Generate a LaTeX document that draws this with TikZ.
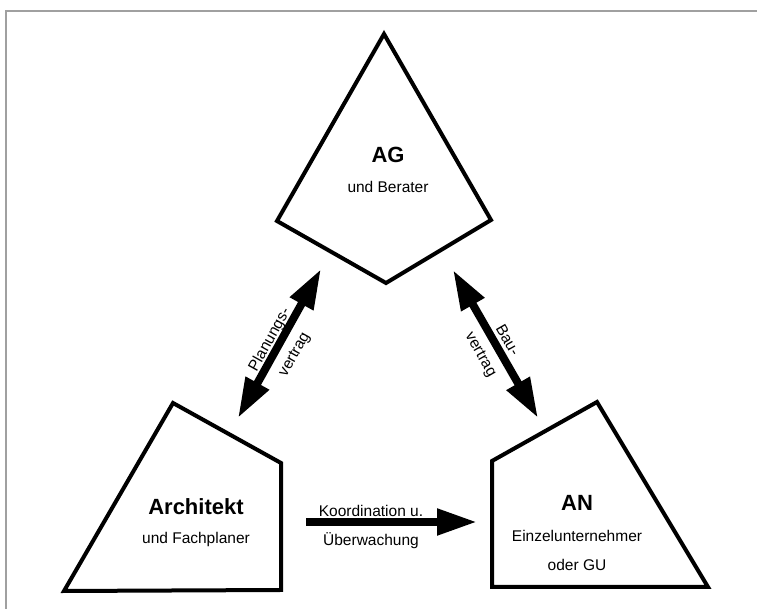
\documentclass[tikz,border=0pt]{standalone}
\usepackage{fontspec}
\setmainfont{Liberation Sans}
\usetikzlibrary{arrows.meta}
\begin{document}
\begin{tikzpicture}[x=1pt,y=1pt,
  polyshape/.style={line width=4pt,line join=miter,draw=black},
  titletext/.style={font=\fontsize{22}{25}\selectfont\bfseries,inner sep=0pt},
  subtext/.style={font=\fontsize{15.5}{18}\selectfont,inner sep=0pt},
  bigarrow/.style={line width=8pt,{Triangle[length=40pt,width=25pt]}-{Triangle[length=40pt,width=25pt]}},
  onearrow/.style={line width=8pt,-{Triangle[length=40pt,width=25pt]}},
  frameline/.style={draw={rgb,255:red,160;green,160;blue,160},line width=2pt}]
\useasboundingbox (0,0) rectangle (757,609);
% frame
\coordinate (fa) at (6,0);
\coordinate (fb) at (6,598);
\coordinate (fc) at (757,598);
\draw[frameline] (fa) -- (fb) -- (fc);
% AG
\coordinate (ag1) at (384,575);
\coordinate (ag2) at (491,389);
\coordinate (ag3) at (386,326);
\coordinate (ag4) at (277,388);
\draw[polyshape] (ag1) -- (ag2) -- (ag3) -- (ag4) -- cycle;
\node[titletext] (agt) at (388,454) {AG};
\node[subtext] (ags) at (388,422) {und Berater};
% Architekt
\coordinate (ar1) at (173,206);
\coordinate (ar2) at (281,146);
\coordinate (ar3) at (281,19);
\coordinate (ar4) at (64,18);
\draw[polyshape] (ar1) -- (ar2) -- (ar3) -- (ar4) -- cycle;
\node[titletext] (art) at (196,102) {Architekt};
\node[subtext] (ars) at (196,70) {und Fachplaner};
% AN
\coordinate (an1) at (597,207);
\coordinate (an2) at (708,22);
\coordinate (an3) at (492,22);
\coordinate (an4) at (492,148);
\draw[polyshape] (an1) -- (an2) -- (an3) -- (an4) -- cycle;
\node[titletext] (ant) at (577,106) {AN};
\node[subtext] (ans1) at (577,73) {Einzelunternehmer};
\node[subtext] (ans2) at (577,44) {oder GU};
% arrows
\coordinate (pa) at (238,191);
\coordinate (pb) at (321,340);
\draw[bigarrow] (pa) -- (pb);
\node[subtext,rotate=60.9] (pl1) at (270,269) {Planungs-};
\node[subtext,rotate=60.9] (pl2) at (295,254) {vertrag};
\coordinate (ba) at (453,339);
\coordinate (bb) at (538,191);
\draw[bigarrow] (ba) -- (bb);
\node[subtext,rotate=-60.1] (bl1) at (508,269) {Bau-};
\node[subtext,rotate=-60.1] (bl2) at (480,254) {vertrag};
\coordinate (ka) at (306,87);
\coordinate (kb) at (477,87);
\draw[onearrow] (ka) -- (kb);
\node[subtext] (kl1) at (371,98) {Koordination u.};
\node[subtext] (kl2) at (371,68) {Überwachung};
\end{tikzpicture}
\end{document}
